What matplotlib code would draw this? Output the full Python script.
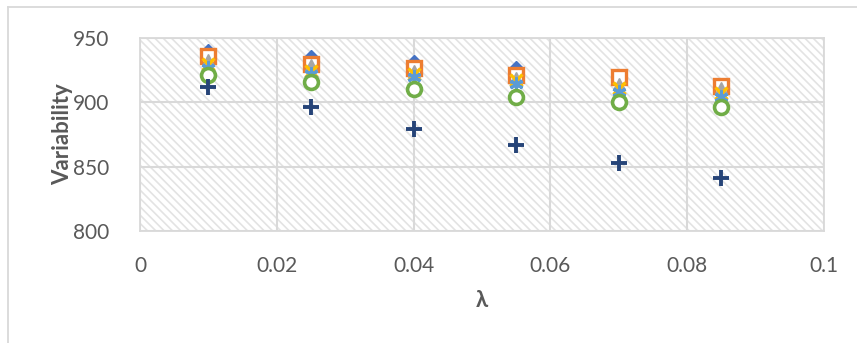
import matplotlib
matplotlib.use("Agg")
import matplotlib.pyplot as plt
from matplotlib.patches import Rectangle
from matplotlib.lines import Line2D

plt.rcParams['font.family'] = ['Lato', 'DejaVu Sans']
plt.rcParams['hatch.linewidth'] = 1.2

# data
lam = [0.01, 0.025, 0.04, 0.055, 0.07, 0.085]
s_diamond = [940, 935, 931, 927, 920, 912]
s_square = [936, 930, 927, 921, 920, 913]
s_triangle = [933, 929, 924, 919, 914, 911]
s_cross = [930, 924, 922, 917, 911, 907]
s_star = [927, 922, 920, 914, 908, 904]
s_circle = [921, 916, 910, 904, 900, 896]
s_plus = [912, 896, 879, 867, 853, 841]

x_ticks = [0, 0.02, 0.04, 0.06, 0.08, 0.1]
x_ticklabels = ['0', '0.02', '0.04', '0.06', '0.08', '0.1']
y_ticks = [800, 850, 900, 950]

grey = '#d9d9d9'
txt = '#595959'

fig = plt.figure(figsize=(8.57, 3.43), dpi=100)
ax = fig.add_axes([140/857, 1-231/343, 684/857, 193/343])

# hatched plot area
ax.patch.set_visible(False)
bg = Rectangle((0, 0), 1, 1, transform=ax.transAxes, facecolor='white',
               edgecolor='#e3e3e3', hatch='\\\\\\\\', lw=0, zorder=0)
ax.add_patch(bg)

ax.plot(lam, s_diamond, ls='none', marker='D', ms=7, color='#4472C4', zorder=3)
ax.plot(lam, s_square, ls='none', marker='s', ms=10, mfc='white', mec='#ED7D31', mew=2.4, zorder=3)
ax.plot(lam, s_triangle, ls='none', marker='^', ms=8, color='#A5A5A5', zorder=3)
ax.plot(lam, s_cross, ls='none', marker='x', ms=9, mec='#FFC000', mew=2.4, zorder=3)
ax.plot(lam, s_star, ls='none', marker=(6, 2, 0), ms=10, mec='#5B9BD5', mew=2.2, zorder=3)
ax.plot(lam, s_circle, ls='none', marker='o', ms=10, mfc='white', mec='#70AD47', mew=2.6, zorder=3)
ax.plot(lam, s_plus, ls='none', marker='+', ms=12, mec='#264478', mew=2.8, zorder=3)

ax.set_xlim(0, 0.1)
ax.set_ylim(800, 950)
ax.set_xticks(x_ticks)
ax.set_xticklabels(x_ticklabels)
ax.set_yticks(y_ticks)
ax.grid(True, color=grey, lw=1.5, zorder=1)
ax.set_axisbelow(True)
for sp in ax.spines.values():
    sp.set_color(grey)
    sp.set_linewidth(1.3)
ax.tick_params(length=0, labelsize=15, labelcolor=txt)
ax.tick_params(axis='x', pad=18)
ax.tick_params(axis='y', pad=22)

ax.set_ylabel('Variability', fontsize=16, fontweight='bold', color=txt, labelpad=0)
ax.set_xlabel('λ', fontsize=16, fontweight='bold', color=txt, labelpad=10)

# chart border (only left and top edges fall inside the picture)
fig.add_artist(Line2D([8/857, 8/857], [0, 1-7/343], transform=fig.transFigure, color=grey, lw=1.3))
fig.add_artist(Line2D([8/857, 1], [1-7/343, 1-7/343], transform=fig.transFigure, color=grey, lw=1.3))

fig.savefig('out.png', dpi=100)
